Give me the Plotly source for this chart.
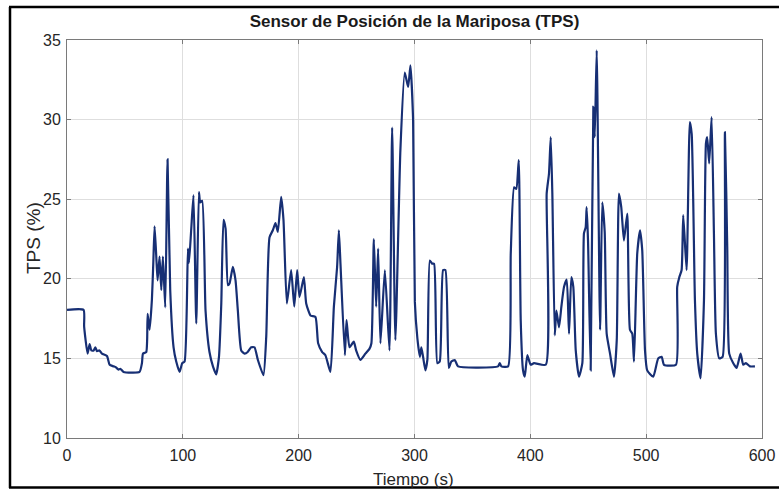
import plotly.graph_objects as go

tiempo = [0, 14.3, 14.8, 17.8, 19.5, 21, 23, 24.5, 25.9, 28, 30.2, 34.5, 36.8, 40.2, 42, 44.5, 46, 48.8, 62.6, 64.7, 65.6, 68.4,
          69.2, 69.6, 71.3, 73.3, 74.5, 75.6, 77, 78.2, 79.9, 81.4, 82.8, 84.8, 86.8, 89.1, 92, 94.3, 97.2, 99.5, 101.5,
          104.4, 105.3, 107.2, 109.2, 111.6, 113.9, 115, 116.7, 119.6, 123, 126, 128.8, 131.2, 133.2, 135.1, 136.9, 138.9,
          140.3, 143.2, 145.5, 147.5, 150.4, 153.3, 156, 159, 161.9, 164.8, 169.6, 172, 174.8, 177.7, 180, 182, 184.9,
          186.9, 189.8, 193.5, 196.2, 198.7, 200.7, 204.5, 206.5, 210.2, 214.5, 216.8, 220.3, 223.1, 227.4, 230.4, 233.2,
          234.7, 236.1, 239.9, 241.3, 243.9, 247.6, 249.6, 253.3, 257.6, 261.1, 262.8, 264.9, 266.9, 268.6, 270.6, 274.4,
          278.4, 280.7, 283.5, 287.8, 291.6, 294.5, 296.5, 298.8, 300.3, 302.5, 304.6, 305.9, 307.4, 309.4, 311.1, 313.2,
          315.2, 316.9, 319.7, 321.8, 324.7, 326.7, 329.6, 331.8, 334.8, 337.6, 372.1, 373.6, 375, 380.8, 383.1, 386,
          387.9, 390, 391.7, 393.7, 395.2, 397.4, 400.3, 403.2, 413.3, 414.1, 416.1, 417.6, 419, 421.1, 422.5, 424.8,
          426.8, 429.1, 431.4, 433.4, 435.4, 437.1, 439.2, 442, 444.9, 446.3, 447.8, 448.6, 449.8, 452.1, 454.4, 455.6,
          457.3, 460.2, 462.1, 464.2, 465.9, 468.8, 472.2, 474.6, 476.5, 478.5, 480.8, 483.7, 486, 488, 489.5, 492.3,
          494.7, 496.6, 499, 500.9, 506.1, 510.4, 513.4, 515.4, 525.7, 526.8, 528.6, 530.6, 532, 534.9, 537.7, 539.3,
          542.1, 544.1, 547, 549.9, 551.6, 552.7, 554.4, 556.5, 558.5, 560.2, 563.1, 566, 568, 570, 571.7, 575.2, 578.1,
          581.5, 583.8, 586.1, 589.6, 593.9]

tps = [18.05, 18.05, 17.0, 15.3, 15.9, 15.5, 15.5, 15.7, 15.45, 15.5, 15.3, 15.15, 14.6, 14.5, 14.45, 14.3, 14.35, 14.15,
       14.15, 14.7, 15.3, 15.4, 16.2, 17.8, 16.8, 18.7, 21.0, 23.3, 21.5, 19.9, 21.4, 19.3, 21.4, 18.2, 27.5, 19.3, 15.7,
       14.8, 14.15, 14.7, 14.8, 21.9, 21.0, 23.05, 25.25, 17.2, 25.45, 24.8, 24.9, 18.0, 15.4, 14.5, 14.0, 15.1, 18.45,
       23.7, 23.15, 19.6, 19.7, 20.75, 19.9, 18.0, 15.5, 15.3, 15.4, 15.7, 15.7, 14.9, 13.95, 16.35, 22.6, 23.05, 23.5,
       22.95, 25.15, 23.7, 18.45, 20.55, 18.25, 20.55, 18.85, 20.1, 18.45, 17.7, 17.6, 15.95, 15.4, 15.2, 14.15, 18.25,
       20.75, 23.05, 20.95, 15.2, 17.4, 15.7, 16.05, 15.5, 14.9, 15.3, 15.6, 15.95, 22.5, 18.25, 21.9, 15.95, 20.55, 15.5,
       29.5, 16.15, 28.05, 32.95, 32.05, 33.4, 29.95, 18.55, 16.25, 15.1, 15.7, 15.1, 14.25, 14.9, 21.15, 20.95, 20.95,
       14.7, 14.8, 20.55, 20.55, 14.4, 14.8, 14.9, 14.5, 14.5, 14.7, 14.5, 14.5, 21.6, 25.75, 25.65, 27.45, 17.4, 14.25,
       13.85, 15.2, 14.6, 14.7, 14.6, 25.35, 26.6, 28.9, 25.35, 16.45, 18.0, 16.95, 18.25, 19.5, 19.95, 16.55, 20.1, 19.5,
       15.5, 13.85, 14.7, 22.85, 23.25, 24.5, 22.4, 14.25, 30.8, 28.9, 34.35, 16.8, 24.8, 22.95, 16.55, 15.3, 13.85, 16.15,
       25.35, 24.5, 22.4, 24.1, 16.8, 16.55, 14.8, 21.6, 23.05, 21.8, 15.5, 14.25, 13.85, 15.0, 15.1, 14.6, 14.6, 19.5,
       20.1, 20.55, 24.0, 20.55, 29.85, 29.1, 18.65, 15.3, 13.75, 18.65, 28.5, 28.9, 27.25, 30.15, 22.85, 16.55, 15.0,
       15.1, 29.2, 22.0, 15.3, 14.7, 14.4, 15.3, 14.6, 14.7, 14.5, 14.5]

x_ticks = [0, 100, 200, 300, 400, 500, 600]
y_ticks = [10, 15, 20, 25, 30, 35]

W, H = 779, 491
ml, mr, mt, mb = 67, 17, 40, 53
FONT = "Liberation Sans, Arial, sans-serif"

fig = go.Figure()
fig.add_trace(go.Scatter(x=tiempo, y=tps, mode="lines",
                         line=dict(color="#172f74", width=2.2, shape="spline", smoothing=0.5),
                         showlegend=False))

axis_common = dict(showline=True, linecolor="#7a7a7a", linewidth=1, mirror="ticks",
                   ticks="inside", ticklen=4, tickcolor="#7a7a7a", automargin=False,
                   showgrid=True, gridcolor="#dedede", gridwidth=1, zeroline=False,
                   tickfont=dict(family=FONT, size=16, color="#262626"))

fig.update_xaxes(range=[0, 600], tickvals=x_ticks, **axis_common, ticklabelstandoff=3)
fig.update_yaxes(range=[10, 35], tickvals=y_ticks, **axis_common, ticklabelstandoff=2)

pw = W - ml - mr
ph = H - mt - mb
def px_to_paper_x(px):
    return (px - ml) / pw
def px_to_paper_y(py):
    return 1 - (py - mt) / ph

fig.add_shape(type="line", xref="paper", yref="paper",
              x0=px_to_paper_x(10), x1=px_to_paper_x(10), y0=px_to_paper_y(7), y1=px_to_paper_y(488),
              line=dict(color="black", width=2.5))
fig.add_shape(type="line", xref="paper", yref="paper",
              x0=px_to_paper_x(9), x1=px_to_paper_x(800), y0=px_to_paper_y(7), y1=px_to_paper_y(7),
              line=dict(color="black", width=2.5))
fig.add_shape(type="line", xref="paper", yref="paper",
              x0=px_to_paper_x(9), x1=px_to_paper_x(800), y0=px_to_paper_y(487.5), y1=px_to_paper_y(487.5),
              line=dict(color="black", width=2.5))

fig.add_annotation(text="Tiempo (s)", xref="paper", yref="paper",
                   x=px_to_paper_x(413), y=px_to_paper_y(479), xanchor="center", yanchor="middle",
                   showarrow=False, font=dict(family=FONT, size=17, color="#262626"))
fig.add_annotation(text="TPS (%)", xref="paper", yref="paper", textangle=-90,
                   x=px_to_paper_x(33), y=px_to_paper_y(238), xanchor="center", yanchor="middle",
                   showarrow=False, font=dict(family=FONT, size=19, color="#262626"))

fig.update_layout(
    width=W, height=H,
    margin=dict(l=ml, r=mr, t=mt, b=mb, autoexpand=False),
    paper_bgcolor="white", plot_bgcolor="white",
    title=dict(text="<b>Sensor de Posición de la Mariposa (TPS)</b>",
               x=0.5, xref="paper", xanchor="center", y=1 - 21 / H, yanchor="middle",
               font=dict(family=FONT, size=17, color="#1a1a1a")),
)

fig.write_html("out.html")
